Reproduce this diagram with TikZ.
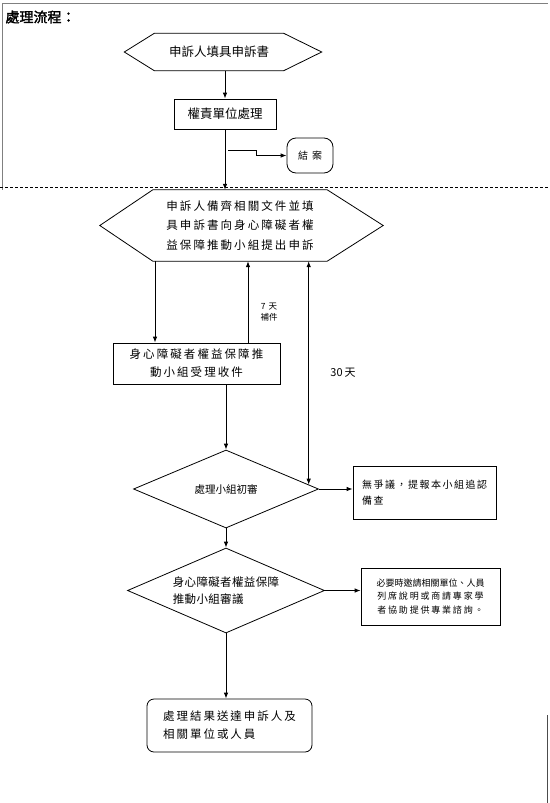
\documentclass[tikz,border=0pt]{standalone}
\usepackage{fontspec}
\setmainfont{Noto Sans CJK TC}
\newfontfamily\titlefont[FakeBold=2]{Noto Sans CJK TC}
\newcommand{\ls}[1]{\addfontfeature{LetterSpace=#1}}
\usepackage{tikz}
\usetikzlibrary{arrows.meta,positioning,calc,shapes.geometric}

\begin{document}
\begin{tikzpicture}[x=1pt, y=-1pt, >={Latex[length=6pt,width=4.5pt]},
  hexbox/.style={inner sep=0pt, align=center},
  stepbox/.style={draw, line width=0.8pt, align=center, inner sep=0pt},
  endbox/.style={draw, line width=0.8pt, rounded corners=9pt, align=center, inner sep=0pt},
  decision/.style={draw, line width=0.8pt, diamond, aspect=2.3, inner sep=0pt, align=center},
  line/.style={->, line width=0.8pt},
  hexline/.style={line width=0.8pt}]

\useasboundingbox (0,0) rectangle (549,803);

% frame of the scanned page
\draw[gray, line width=0.6pt] (2,3) -- (548,3);
\draw[gray, line width=0.6pt] (2,3) -- (2,190);
\draw[black!70, line width=0.6pt] (547,715) -- (547,803);

\node[anchor=west, font=\titlefont\fontsize{14}{16}\selectfont] (title) at (2,17) {處理流程：};

% first stage
\node[hexbox, minimum width=129pt, minimum height=37pt, font=\fontsize{12.5}{15}\selectfont] (fill) at (219,52) {申訴人填具申訴書};
\draw[hexline] ($(fill.west)+(-30,0)$) -- (fill.north west) -- (fill.north east) -- ($(fill.east)+(38,0)$) -- (fill.south east) -- (fill.south west) -- cycle;

\node[stepbox, minimum width=102pt, minimum height=30pt, font=\fontsize{12.5}{15}\selectfont] (unit) at (225,114) {權責單位處理};
\node[endbox, minimum width=46pt, minimum height=35pt, font=\fontsize{10}{12}\selectfont] (close) at (310,155.5) {\ls{40}結案};

\draw[line] (fill.south -| unit.south) -- (unit.north);
\coordinate (brk) at ($(unit.south)+(3,21)$);
\draw[line] (brk) -- ++(28,0) |- (close.west);

\draw[dash pattern=on 3pt off 2pt, line width=0.6pt] (0,187) -- (549,187);

% second stage
\node[hexbox, minimum width=174pt, minimum height=71pt, font=\fontsize{11.5}{19.5}\selectfont\ls{18}] (apply) at (240,225.5)
  {申訴人備齊相關文件並填\\具申訴書向身心障礙者權\\益保障推動小組提出申訴};
\draw[hexline] ($(apply.west)+(-53,0)$) -- (apply.north west) -- (apply.north east) -- ($(apply.east)+(56,0)$) -- (apply.south east) -- (apply.south west) -- cycle;
\draw[line] (unit.south) -- (unit.south |- apply.north);

\node[stepbox, minimum width=167pt, minimum height=41pt, font=\fontsize{11.5}{18}\selectfont\ls{18}] (recv) at (196.5,363.5)
  {身心障礙者權益保障推\\動小組受理收件};

\draw[line] (apply.south -| 155,0) -- (recv.north -| 155,0);
\draw[line] (recv.north -| 248,0) -- (apply.south -| 248,0);
\node[align=center, font=\fontsize{8.5}{10.5}\selectfont] (redo) at (269,312) {7\,\,天\\補件};

\node[decision, minimum width=185pt, minimum height=78pt, font=\fontsize{10.5}{13}\selectfont] (first) at (226,489) {處理小組初審};
\draw[line] (recv.south -| first.north) -- (first.north);
\draw[<->, line width=0.8pt] (first.3.5) -- (first.3.5 |- apply.south);
\node[font=\fontsize{11}{13}\selectfont] (days) at (343,373) {30\,天};

\node[stepbox, minimum width=143pt, minimum height=53pt, align=left, font=\fontsize{10}{16}\selectfont\ls{15}] (nodis) at (424.5,492.5)
  {無爭議，提報本小組追認\\備查};
\draw[line] (first.east) -- (first.east -| nodis.west);

\node[decision, minimum width=197pt, minimum height=85pt, align=left, font=\fontsize{11.5}{17}\selectfont\ls{3}] (review) at (226,590.5)
  {身心障礙者權益保障\\推動小組審議};
\draw[line] (first.south) -- (review.north);

\node[stepbox, minimum width=139pt, minimum height=57pt, font=\fontsize{9}{13.5}\selectfont] (expert) at (430.5,596.5)
  {必要時邀請相關單位、人員\\{\ls{20}列席說明或商請專家學}\\{\ls{20}者協助提供專業諮詢。}};
\draw[line] (review.east) -- (review.east -| expert.west);

\node[endbox, rounded corners=7pt, minimum width=165pt, minimum height=53pt, align=left, font=\fontsize{11.5}{18}\selectfont\ls{17}] (result) at (229.5,725.5)
  {處理結果送達申訴人及\\相關單位或人員};
\draw[line] (review.south) -- (review.south |- result.north);
\end{tikzpicture}
\end{document}
